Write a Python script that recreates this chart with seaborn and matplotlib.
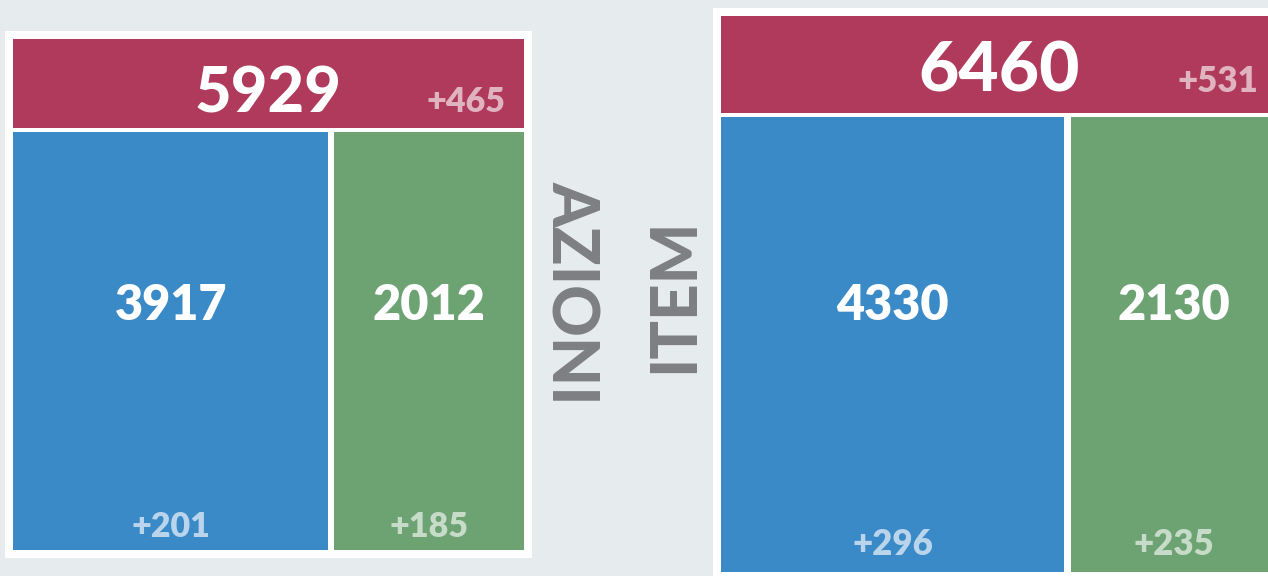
import matplotlib
matplotlib.use("Agg")
import matplotlib.pyplot as plt
import seaborn as sns

# ---------------- data ----------------
panel_names = ["AZIONI", "ITEM"]
totals = [5929, 6460]
total_deltas = [465, 531]
blue_values = [3917, 4330]
blue_deltas = [201, 296]
green_values = [2012, 2130]
green_deltas = [185, 235]

# ---------------- style ----------------
sns.set_theme(style="white")
plt.rcParams["font.family"] = ["Lato", "DejaVu Sans"]

BG = "#e6ebee"
RED = "#b03a5b"
BLUE = "#3b8ac8"
GREEN = "#6da373"
GRAY = "#7e7f83"

W, H = 1268, 576
fig = plt.figure(figsize=(W / 100, H / 100), dpi=100, facecolor=BG)

# panel geometry in pixels: (inner left, inner top, inner size)
panels_px = [(13, 39, 511), (721, 16, 556)]
PAD = 8  # white frame, px
RED_H = 0.175
BLUE_W = 0.617
VGAP = 0.0067
HGAP = 0.012

big_fs = [45.5, 50]
mid_fs = [35, 35]
delta_fs = [24.5, 25]
big_base = [0.143, 0.136]
mid_base = [0.55, 0.547]
bot_base = [0.974, 0.969]
delta_right = [0.963, 0.966]

for i, (lx, ty, s) in enumerate(panels_px):
    p = PAD / s
    left = (lx - PAD) / W
    bottom = 1 - (ty + s + PAD) / H
    ax = fig.add_axes([left, bottom, (s + 2 * PAD) / W, (s + 2 * PAD) / H])
    ax.set_facecolor("white")
    ax.set_xlim(-p, 1 + p)
    ax.set_ylim(1 + p, -p)
    ax.set_axis_off()
    ax.add_patch(plt.Rectangle((-p, -p), 1 + 2 * p, 1 + 2 * p, color="white", zorder=0))

    # total bar (top)
    ax.bar(0, RED_H, width=1, bottom=0, align="edge", color=RED, linewidth=0, zorder=1)
    # blue and green blocks
    top2 = RED_H + VGAP
    ax.bar(0, 1 - top2, width=BLUE_W, bottom=top2, align="edge", color=BLUE, linewidth=0, zorder=1)
    gx = BLUE_W + HGAP
    ax.bar(gx, 1 - top2, width=1 - gx, bottom=top2, align="edge", color=GREEN, linewidth=0, zorder=1)

    ax.text(0.5, big_base[i], f"{totals[i]}", ha="center", va="baseline",
            color="white", fontsize=big_fs[i], fontweight="black", zorder=3)
    ax.text(delta_right[i], big_base[i], f"+{total_deltas[i]}", ha="right", va="baseline",
            color="white", alpha=0.62, fontsize=delta_fs[i], fontweight="heavy", zorder=3)

    bx = BLUE_W / 2
    gcx = gx + (1 - gx) / 2
    ax.text(bx, mid_base[i], f"{blue_values[i]}", ha="center", va="baseline",
            color="white", fontsize=mid_fs[i], fontweight="heavy", zorder=3)
    ax.text(gcx, mid_base[i], f"{green_values[i]}", ha="center", va="baseline",
            color="white", fontsize=mid_fs[i], fontweight="heavy", zorder=3)
    ax.text(bx, bot_base[i], f"+{blue_deltas[i]}", ha="center", va="baseline",
            color="white", alpha=0.65, fontsize=delta_fs[i], fontweight="heavy", zorder=3)
    ax.text(gcx, bot_base[i], f"+{green_deltas[i]}", ha="center", va="baseline",
            color="white", alpha=0.62, fontsize=delta_fs[i], fontweight="heavy", zorder=3)

# rotated panel titles
fig.text(571 / W, 1 - 293 / H, panel_names[0], rotation=-90, ha="center", va="center",
         color=GRAY, fontsize=46, fontweight="black")
fig.text(675 / W, 1 - 295 / H, panel_names[1], rotation=90, ha="center", va="center",
         color=GRAY, fontsize=46, fontweight="black")

fig.savefig("out.png", dpi=100, facecolor=BG)
